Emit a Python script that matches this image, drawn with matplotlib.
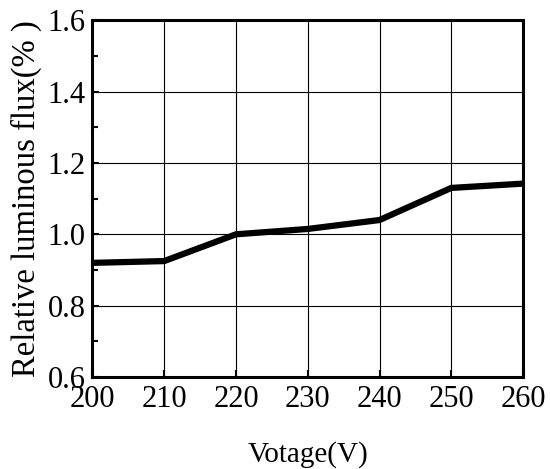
import matplotlib
matplotlib.use('Agg')
import matplotlib.pyplot as plt
from matplotlib.ticker import MultipleLocator

# data
voltage = [200, 210, 220, 230, 240, 250, 260]
flux = [0.92, 0.925, 1.0, 1.015, 1.04, 1.13, 1.142]
yticks = [0.6, 0.8, 1.0, 1.2, 1.4, 1.6]

plt.rcParams['font.family'] = 'Liberation Serif'

fig = plt.figure(figsize=(5.5, 4.69), dpi=100)
ax = fig.add_axes([0.168, 0.196, 0.783, 0.761])

ax.plot(voltage, flux, color='black', linewidth=4.5, solid_joinstyle='miter')

ax.set_xlim(200, 260)
ax.set_ylim(0.6, 1.6)
ax.set_xticks(voltage)
ax.set_yticks(yticks)
ax.set_yticklabels([f'{v:.1f}' for v in yticks])
ax.yaxis.set_minor_locator(MultipleLocator(0.1))

ax.grid(True, color='black', linewidth=0.8)
ax.tick_params(direction='in', labelsize=22, width=1.5, length=5)
ax.tick_params(which='minor', direction='in', width=1.5, length=4)
ax.tick_params(axis='x', pad=5.5)
ax.tick_params(axis='y', pad=5)
for s in ax.spines.values():
    s.set_linewidth(2.2)

ax.set_xlabel('Votage(V)', fontsize=21, labelpad=20)
ax.set_ylabel('Relative luminous flux(% )', fontsize=23.5, labelpad=4)

fig.savefig('out.png', dpi=100)
